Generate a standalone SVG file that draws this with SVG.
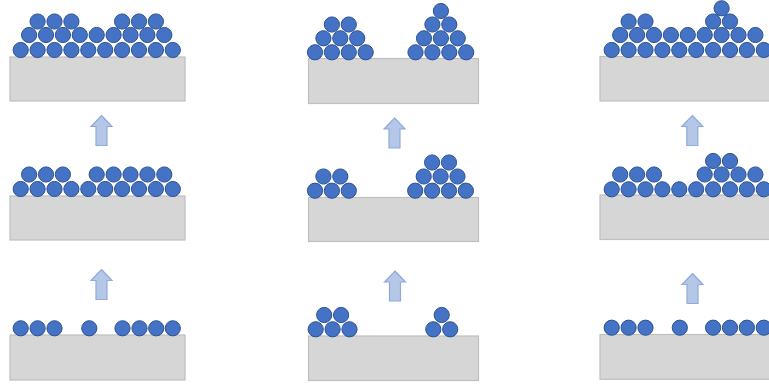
<svg xmlns="http://www.w3.org/2000/svg" xmlns:xlink="http://www.w3.org/1999/xlink" width="769" height="385" viewBox="0 0 769 385">
<style>
.sub{fill:#D6D6D6;stroke:#BFBFBF;stroke-width:1.2}
.p{fill:#4472C4;stroke:#2F528F;stroke-width:1}
.arr{fill:#B4C7E7;stroke:#8FAADC;stroke-width:1.2;stroke-linejoin:miter}
</style>
<defs>
<path id="up" d="M0,0 L10.5,11 L5.5,11 L5.5,30 L-5.5,30 L-5.5,11 L-10.5,11 Z"/>
</defs>
<rect width="769" height="385" fill="#FFFFFF"/>
<g id="panel-L1">
<rect class="sub" x="10" y="57" width="175" height="44"/>
<g class="p">
<circle cx="20.7" cy="50" r="7.6"/><circle cx="37.6" cy="50" r="7.6"/><circle cx="54.5" cy="50" r="7.6"/><circle cx="71.4" cy="50" r="7.6"/><circle cx="88.3" cy="50" r="7.6"/><circle cx="105.2" cy="50" r="7.6"/><circle cx="122.1" cy="50" r="7.6"/><circle cx="139" cy="50" r="7.6"/><circle cx="155.9" cy="50" r="7.6"/><circle cx="172.8" cy="50" r="7.6"/>
<circle cx="29.1" cy="35" r="7.6"/><circle cx="46" cy="35" r="7.6"/><circle cx="62.9" cy="35" r="7.6"/><circle cx="79.8" cy="35" r="7.6"/><circle cx="96.7" cy="35" r="7.6"/><circle cx="113.6" cy="35" r="7.6"/><circle cx="130.5" cy="35" r="7.6"/><circle cx="147.4" cy="35" r="7.6"/><circle cx="164.3" cy="35" r="7.6"/>
<circle cx="37.6" cy="21.5" r="7.6"/><circle cx="54.5" cy="21.5" r="7.6"/><circle cx="71.4" cy="21.5" r="7.6"/><circle cx="122.1" cy="21.5" r="7.6"/><circle cx="139" cy="21.5" r="7.6"/><circle cx="155.9" cy="21.5" r="7.6"/>
</g>
</g>
<g id="panel-L2">
<rect class="sub" x="10" y="196" width="175" height="44"/>
<g class="p">
<circle cx="20.7" cy="189" r="7.6"/><circle cx="37.6" cy="189" r="7.6"/><circle cx="54.5" cy="189" r="7.6"/><circle cx="71.4" cy="189" r="7.6"/><circle cx="88.3" cy="189" r="7.6"/><circle cx="105.2" cy="189" r="7.6"/><circle cx="122.1" cy="189" r="7.6"/><circle cx="139" cy="189" r="7.6"/><circle cx="155.9" cy="189" r="7.6"/><circle cx="172.8" cy="189" r="7.6"/>
<circle cx="29.1" cy="174.5" r="7.6"/><circle cx="46" cy="174.5" r="7.6"/><circle cx="62.9" cy="174.5" r="7.6"/><circle cx="96.7" cy="174.5" r="7.6"/><circle cx="113.6" cy="174.5" r="7.6"/><circle cx="130.5" cy="174.5" r="7.6"/><circle cx="147.4" cy="174.5" r="7.6"/><circle cx="164.3" cy="174.5" r="7.6"/>
</g>
</g>
<g id="panel-L3">
<rect class="sub" x="10" y="335" width="175" height="45"/>
<g class="p">
<circle cx="20.7" cy="328.3" r="7.6"/><circle cx="37.6" cy="328.3" r="7.6"/><circle cx="54.5" cy="328.3" r="7.6"/><circle cx="89.3" cy="328.3" r="7.6"/><circle cx="122.5" cy="328.3" r="7.6"/><circle cx="139.5" cy="328.3" r="7.6"/><circle cx="156.2" cy="328.3" r="7.6"/><circle cx="172.8" cy="328.3" r="7.6"/>
</g>
</g>
<g id="panel-M1">
<rect class="sub" x="308.5" y="58.5" width="170" height="45"/>
<g class="p">
<circle cx="315" cy="52.3" r="7.6"/><circle cx="331.9" cy="52.3" r="7.6"/><circle cx="348.8" cy="52.3" r="7.6"/><circle cx="365.7" cy="52.3" r="7.6"/>
<circle cx="323.4" cy="38.3" r="7.6"/><circle cx="340.3" cy="38.3" r="7.6"/><circle cx="357.2" cy="38.3" r="7.6"/>
<circle cx="331.9" cy="24.5" r="7.6"/><circle cx="348.8" cy="24.5" r="7.6"/>
<circle cx="415.5" cy="52.3" r="7.6"/><circle cx="432.4" cy="52.3" r="7.6"/><circle cx="449.3" cy="52.3" r="7.6"/><circle cx="466.2" cy="52.3" r="7.6"/>
<circle cx="424" cy="38.3" r="7.6"/><circle cx="440.9" cy="38.3" r="7.6"/><circle cx="457.8" cy="38.3" r="7.6"/>
<circle cx="432.4" cy="24.5" r="7.6"/><circle cx="449.3" cy="24.5" r="7.6"/>
<circle cx="440.9" cy="11" r="7.6"/>
</g>
</g>
<g id="panel-M2">
<rect class="sub" x="308.5" y="197.5" width="170" height="44"/>
<g class="p">
<circle cx="315" cy="190.7" r="7.6"/><circle cx="331.9" cy="190.7" r="7.6"/><circle cx="348.8" cy="190.7" r="7.6"/>
<circle cx="323.4" cy="176.5" r="7.6"/><circle cx="340.3" cy="176.5" r="7.6"/>
<circle cx="415.2" cy="190.7" r="7.6"/><circle cx="432.1" cy="190.7" r="7.6"/><circle cx="449" cy="190.7" r="7.6"/><circle cx="465.9" cy="190.7" r="7.6"/>
<circle cx="423.7" cy="176.5" r="7.6"/><circle cx="440.6" cy="176.5" r="7.6"/><circle cx="457.5" cy="176.5" r="7.6"/>
<circle cx="432.1" cy="162.5" r="7.6"/><circle cx="449" cy="162.5" r="7.6"/>
</g>
</g>
<g id="panel-M3">
<rect class="sub" x="308.5" y="336" width="170" height="44.5"/>
<g class="p">
<circle cx="315.7" cy="329.3" r="7.6"/><circle cx="332.6" cy="329.3" r="7.6"/><circle cx="349.5" cy="329.3" r="7.6"/>
<circle cx="324.2" cy="315" r="7.6"/><circle cx="341.1" cy="315" r="7.6"/>
<circle cx="433.3" cy="329.3" r="7.6"/><circle cx="450.2" cy="329.3" r="7.6"/>
<circle cx="441.7" cy="315" r="7.6"/>
</g>
</g>
<g id="panel-R1">
<rect class="sub" x="600" y="56.5" width="180" height="44.5"/>
<g class="p">
<circle cx="611.7" cy="50" r="7.6"/><circle cx="628.6" cy="50" r="7.6"/><circle cx="645.5" cy="50" r="7.6"/><circle cx="662.4" cy="50" r="7.6"/><circle cx="679.3" cy="50" r="7.6"/><circle cx="696.2" cy="50" r="7.6"/><circle cx="713.1" cy="50" r="7.6"/><circle cx="730" cy="50" r="7.6"/><circle cx="746.9" cy="50" r="7.6"/><circle cx="763.8" cy="50" r="7.6"/>
<circle cx="620.2" cy="35" r="7.6"/><circle cx="637.1" cy="35" r="7.6"/><circle cx="654" cy="35" r="7.6"/><circle cx="670.9" cy="35" r="7.6"/><circle cx="687.8" cy="35" r="7.6"/><circle cx="704.7" cy="35" r="7.6"/><circle cx="721.6" cy="35" r="7.6"/><circle cx="738.5" cy="35" r="7.6"/><circle cx="755.4" cy="35" r="7.6"/>
<circle cx="628.6" cy="21.5" r="7.6"/><circle cx="645.5" cy="21.5" r="7.6"/><circle cx="713.1" cy="21.5" r="7.6"/><circle cx="730" cy="21.5" r="7.6"/>
<circle cx="721.6" cy="8.3" r="7.6"/>
</g>
</g>
<g id="panel-R2">
<rect class="sub" x="600" y="195" width="180" height="44.5"/>
<g class="p">
<circle cx="611.7" cy="189.3" r="7.6"/><circle cx="628.6" cy="189.3" r="7.6"/><circle cx="645.5" cy="189.3" r="7.6"/><circle cx="662.4" cy="189.3" r="7.6"/><circle cx="679.3" cy="189.3" r="7.6"/><circle cx="696.2" cy="189.3" r="7.6"/><circle cx="713.1" cy="189.3" r="7.6"/><circle cx="730" cy="189.3" r="7.6"/><circle cx="746.9" cy="189.3" r="7.6"/><circle cx="763.8" cy="189.3" r="7.6"/>
<circle cx="620.2" cy="174.5" r="7.6"/><circle cx="637.1" cy="174.5" r="7.6"/><circle cx="654" cy="174.5" r="7.6"/><circle cx="704.7" cy="174.5" r="7.6"/><circle cx="721.6" cy="174.5" r="7.6"/><circle cx="738.5" cy="174.5" r="7.6"/><circle cx="755.4" cy="174.5" r="7.6"/>
<circle cx="713.1" cy="161" r="7.6"/><circle cx="730" cy="161" r="7.6"/>
</g>
</g>
<g id="panel-R3">
<rect class="sub" x="600" y="334.5" width="180" height="44.8"/>
<g class="p">
<circle cx="611.7" cy="327.7" r="7.6"/><circle cx="628.6" cy="327.7" r="7.6"/><circle cx="645.5" cy="327.7" r="7.6"/><circle cx="679.8" cy="327.7" r="7.6"/><circle cx="713.1" cy="327.7" r="7.6"/><circle cx="730" cy="327.7" r="7.6"/><circle cx="746.9" cy="327.7" r="7.6"/><circle cx="763.8" cy="327.7" r="7.6"/>
</g>
</g>
<g id="connectors" class="arr">
<use xlink:href="#up" href="#up" transform="translate(101.5,115.5)"/>
<use xlink:href="#up" href="#up" transform="translate(101.5,269.5)"/>
<use xlink:href="#up" href="#up" transform="translate(394.5,118)"/>
<use xlink:href="#up" href="#up" transform="translate(395,271)"/>
<use xlink:href="#up" href="#up" transform="translate(692.3,115.5)"/>
<use xlink:href="#up" href="#up" transform="translate(692.5,273.5)"/>
</g>
</svg>
